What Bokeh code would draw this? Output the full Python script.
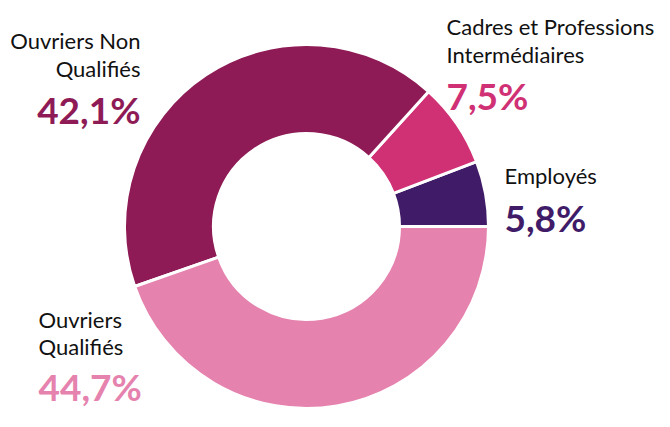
import math
from bokeh.plotting import figure
from bokeh.models import Range1d, ColumnDataSource
from bokeh.core.properties import value
from bokeh.embed import file_html
from bokeh.resources import INLINE

# Data
categories = ["Employés", "Cadres et Professions Intermédiaires", "Ouvriers Non Qualifiés", "Ouvriers Qualifiés"]
shares = [5.8, 7.5, 42.1, 44.7]
colors = ["#401C68", "#D03074", "#8E1B55", "#E582AE"]
label_lines = [["Employés"], ["Cadres et Professions", "Intermédiaires"], ["Ouvriers Non", "Qualifiés"], ["Ouvriers", "Qualifiés"]]

W, H = 654, 411
p = figure(width=W, height=H, output_backend="svg", toolbar_location=None,
           x_range=Range1d(0, W), y_range=Range1d(0, H), min_border=0)
p.axis.visible = False
p.grid.visible = False
p.outline_line_color = None
p.background_fill_color = "white"

def Y(py):
    return H - py

def X(px):
    return px

cx, cy = X(306), Y(226)
total = sum(shares)
starts, ends = [], []
acc = 0.0
for s in shares:
    starts.append(2 * math.pi * acc / total)
    acc += s
    ends.append(2 * math.pi * acc / total)

src = ColumnDataSource(dict(start=starts, end=ends, color=colors))
p.annular_wedge(x=cx, y=cy, inner_radius=93, outer_radius=182,
                start_angle="start", end_angle="end", fill_color="color",
                line_color="white", line_width=3, source=src)

# label layout: (x, align, baselines of name lines, baseline of percent)
layout = [
    (504, "left", [184], 231),
    (446, "left", [35, 63], 109),
    (140, "right", [49, 77], 123),
    (38, "left", [328, 355], 400),
]
font = "Lato"
FS_NAME, FS_PCT = 22, 37
K = 0.387  # central-baseline offset (em)
for (lx, align, bls, pbl), lines, s, c in zip(layout, label_lines, shares, colors):
    for ln, bl in zip(lines, bls):
        p.text(x=[X(lx)], y=[Y(bl - K * FS_NAME)], text=[ln], text_font=value(font),
               text_font_size=value(f"{FS_NAME}px"), text_color="#111111",
               text_align=align, text_baseline="middle")
    pct = f"{s:.1f}".replace(".", ",") + "%"
    p.text(x=[X(lx)], y=[Y(pbl - K * FS_PCT)], text=[pct], text_font=value(font),
           text_font_size=value(f"{FS_PCT}px"), text_font_style="bold", text_color=c,
           text_align=align, text_baseline="middle")

open("out.html", "w").write(file_html(p, INLINE))
